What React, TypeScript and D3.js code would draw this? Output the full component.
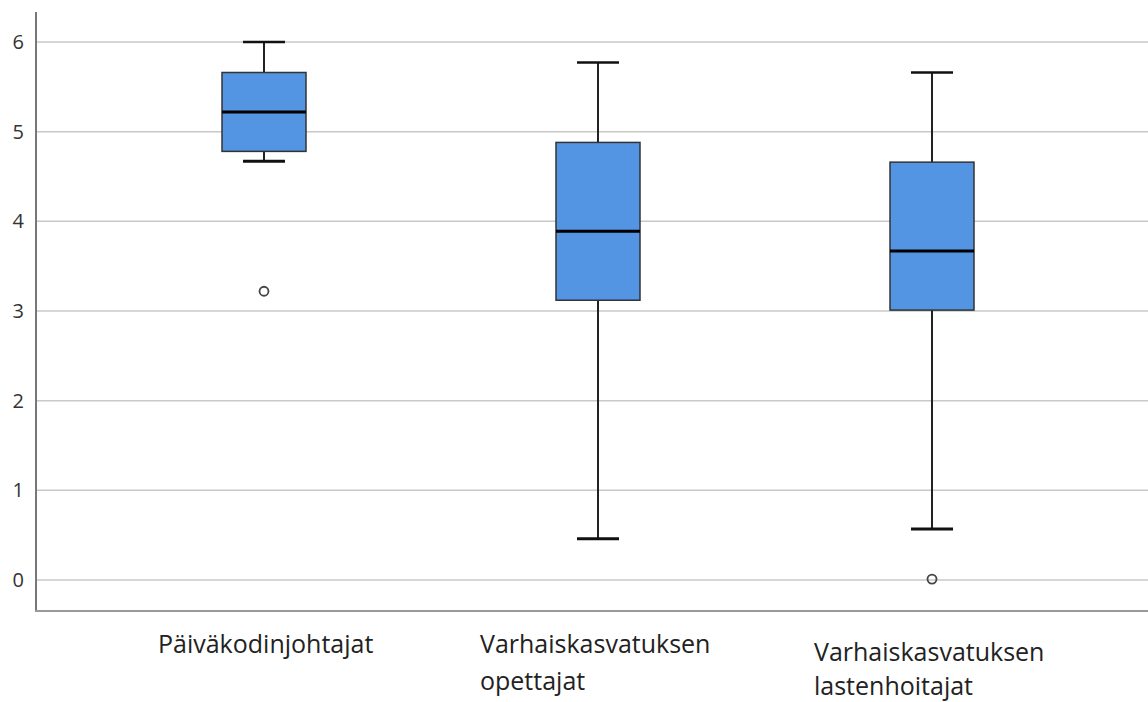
import React from "react";
import * as d3 from "d3";

const categories = ["Päiväkodinjohtajat", "Varhaiskasvatuksen opettajat", "Varhaiskasvatuksen lastenhoitajat"];
const labelLines = [["Päiväkodinjohtajat"], ["Varhaiskasvatuksen", "opettajat"], ["Varhaiskasvatuksen", "lastenhoitajat"]];
const whiskerLow = [4.67, 0.46, 0.57];
const q1 = [4.78, 3.12, 3.01];
const median = [5.22, 3.89, 3.67];
const q3 = [5.66, 4.88, 4.66];
const whiskerHigh = [6.0, 5.77, 5.66];
const outliers = [[3.22], [], [0.01]];
const yTicks = [0, 1, 2, 3, 4, 5, 6];

export default function App() {
  const W = 1148, H = 702;
  const y = d3.scaleLinear().domain([0, 6]).range([580, 42]);
  const x = d3.scalePoint<string>().domain(categories).range([264, 932]);
  const boxW = 84, capW = 42;
  const labelX = [158, 480, 814];
  const labelY = [[653], [653, 690], [661, 695]];
  return (
    <svg width={W} height={H} style={{ position: "absolute", left: 0, top: 0, background: "#fff" }}>
      {yTicks.map((t) => (
        <g key={t}>
          <line x1={36} x2={W} y1={y(t)} y2={y(t)} stroke="#c8c8c8" strokeWidth={1.5} />
          <text x={24} y={y(t) + 7} textAnchor="end" fontFamily="'Open Sans', sans-serif" fontSize={20} fill="#333">{t}</text>
        </g>
      ))}
      <line x1={36} x2={36} y1={12} y2={612} stroke="#777" strokeWidth={2} />
      <line x1={35} x2={W} y1={611} y2={611} stroke="#999" strokeWidth={2} />
      {categories.map((c, i) => {
        const cx = x(c)!;
        return (
          <g key={c}>
            <line x1={cx} x2={cx} y1={y(whiskerHigh[i])} y2={y(q3[i])} stroke="#222" strokeWidth={2} />
            <line x1={cx} x2={cx} y1={y(q1[i])} y2={y(whiskerLow[i])} stroke="#222" strokeWidth={2} />
            <line x1={cx - capW / 2} x2={cx + capW / 2} y1={y(whiskerHigh[i])} y2={y(whiskerHigh[i])} stroke="#111" strokeWidth={2.5} />
            <line x1={cx - capW / 2} x2={cx + capW / 2} y1={y(whiskerLow[i])} y2={y(whiskerLow[i])} stroke="#111" strokeWidth={3} />
            <rect x={cx - boxW / 2} y={y(q3[i])} width={boxW} height={y(q1[i]) - y(q3[i])} fill="#5394e3" stroke="#333" strokeWidth={1.5} />
            <line x1={cx - boxW / 2} x2={cx + boxW / 2} y1={y(median[i])} y2={y(median[i])} stroke="#000" strokeWidth={3} />
            {outliers[i].map((o, j) => (
              <circle key={j} cx={cx} cy={y(o)} r={4.5} fill="none" stroke="#444" strokeWidth={1.8} />
            ))}
            <text fontFamily="'Open Sans', sans-serif" fontSize={25} fill="#222">
              {labelLines[i].map((l, k) => (
                <tspan key={k} x={labelX[i]} y={labelY[i][k]}>{l}</tspan>
              ))}
            </text>
          </g>
        );
      })}
    </svg>
  );
}
